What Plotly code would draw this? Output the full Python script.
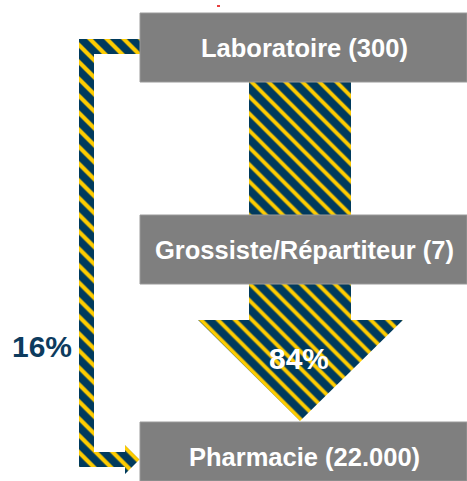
import plotly.graph_objects as go

# ---- data ----
stages = ["Laboratoire", "Grossiste/Répartiteur", "Pharmacie"]
counts = [300, 7, 22000]
share_labels = ["16%", "84%"]   # direct lab->pharmacy, via wholesaler

NAVY = "#003A5D"
YELLOW = "#FFCC00"
GREY = "#7F7F7F"
W, H = 467, 481


def fmt(n):
    return f"{n:,}".replace(",", ".")


labels = [f"{s} ({fmt(c)})" for s, c in zip(stages, counts)]

fig = go.Figure()

# big arrow (via wholesaler)
big_x = [249, 351, 351, 403, 300, 198, 249, 249]
big_y = [82, 82, 320, 320, 421, 320, 320, 82]
fig.add_trace(go.Scatter(
    x=big_x, y=big_y, mode="lines", fill="toself", line=dict(width=0),
    fillcolor=NAVY,
    fillpattern=dict(shape="\\", fgcolor=YELLOW, bgcolor=NAVY, size=12,
                     solidity=0.33, fillmode="replace"),
    hoverinfo="skip", showlegend=False))

# bracket arrow (direct)
br_x = [140, 79, 79, 125, 125, 139.5, 125, 125, 94, 94, 140, 140]
br_y = [39, 39, 467, 467, 474, 459.5, 445, 452, 452, 54, 54, 39]
fig.add_trace(go.Scatter(
    x=br_x, y=br_y, mode="lines", fill="toself", line=dict(width=0),
    fillcolor=NAVY,
    fillpattern=dict(shape="\\", fgcolor=YELLOW, bgcolor=NAVY, size=12,
                     solidity=0.35, fillmode="replace"),
    hoverinfo="skip", showlegend=False))

# boxes
boxes_y = [(13, 82), (215, 284), (422, 481)]
text_y = [48, 250, 457]
for (y0, y1), lab, ty in zip(boxes_y, labels, text_y):
    fig.add_shape(type="rect", x0=140, x1=467, y0=y0, y1=y1,
                  fillcolor=GREY, line=dict(color="#9A9A9A", width=1), layer="above")
    fig.add_annotation(x=304, y=ty, text=f"<b>{lab}</b>", showarrow=False,
                       font=dict(family="Liberation Sans, Arial", size=25.5, color="white"),
                       xanchor="center", yanchor="middle")

# percentages
fig.add_annotation(x=42, y=346, text=f"<b>{share_labels[0]}</b>", showarrow=False,
                   font=dict(family="Liberation Sans, Arial", size=30, color="#0D3B5E"),
                   xanchor="center", yanchor="middle")
fig.add_annotation(x=299, y=358, text=f"<b>{share_labels[1]}</b>", showarrow=False,
                   font=dict(family="Liberation Sans, Arial", size=30, color="white"),
                   xanchor="center", yanchor="middle")

# small red mark at top
fig.add_shape(type="line", x0=217, x1=220, y0=6, y1=6,
              line=dict(color="#E00000", width=1.5), layer="above")

fig.update_layout(
    width=W, height=H, margin=dict(l=0, r=0, t=0, b=0),
    paper_bgcolor="white", plot_bgcolor="white",
    xaxis=dict(range=[0, W], visible=False, fixedrange=True),
    yaxis=dict(range=[H, 0], visible=False, fixedrange=True),
    showlegend=False,
)

fig.write_html("out.html", config={"displayModeBar": False},
               post_script="document.body.style.margin='0';document.body.style.overflow='hidden';")
